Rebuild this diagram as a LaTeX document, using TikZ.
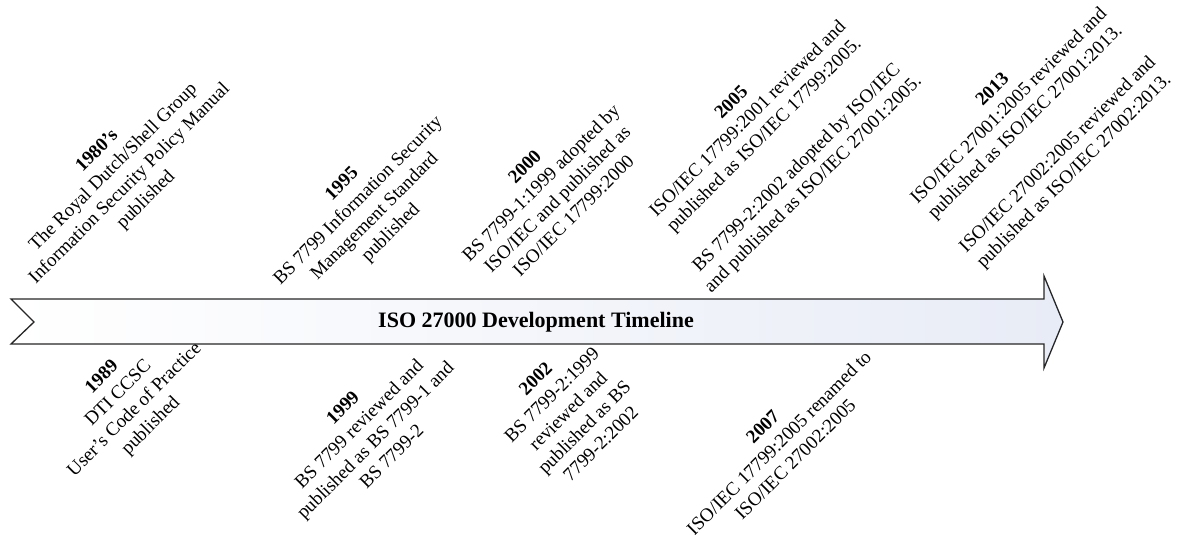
\documentclass[tikz,border=0pt]{standalone}
\usepackage{fontspec}
\setmainfont{Liberation Serif}
\definecolor{bannerend}{RGB}{232,236,246}
\begin{document}
\begin{tikzpicture}[x=1pt,y=-1pt,
  event/.style={rotate=45, align=center, inner sep=0pt,
    font=\fontsize{19}{23}\selectfont},
  banner/.style={draw=black!85, line width=1.3pt, line join=miter,
    left color=white, right color=bannerend}]
\useasboundingbox (0,0) rectangle (1177,535);

% timeline arrow with notched tail
\path[banner] (11,299) -- (1044,299) -- (1044,276) -- (1063,322)
  -- (1044,368) -- (1044,344) -- (11,344) -- (34,322) -- cycle;
\node[font=\fontsize{22}{26}\selectfont\bfseries, inner sep=0pt] (title) at (536,322)
  {ISO 27000 Development Timeline};

% milestones above the arrow
\node[event] (e1980) at (122,176) {\textbf{1980's}\\The Royal Dutch/Shell Group\\Information Security Policy Manual\\published};
\node[event] (e1995) at (367,209) {\textbf{1995}\\BS 7799 Information Security\\Management Standard\\published};
\node[event] (e2000) at (549,191) {\textbf{2000}\\BS 7799-1:1999 adopted by\\ISO/IEC and published as\\ISO/IEC 17799:2000};
\node[event] (e2005) at (773,144) {\textbf{2005}\\ISO/IEC 17799:2001 reviewed and\\published as ISO/IEC 17799:2005.\\[23pt]BS 7799-2:2002 adopted by ISO/IEC\\and published as ISO/IEC 27001:2005.};
\node[event] (e2013) at (1034,131) {\textbf{2013}\\ISO/IEC 27001:2005 reviewed and\\published as ISO/IEC 27001:2013.\\[23pt]ISO/IEC 27002:2005 reviewed and\\published as ISO/IEC 27002:2013.};

% milestones below the arrow
\node[event] (e1989) at (127,402) {\textbf{1989}\\DTI CCSC\\User’s Code of Practice\\published};
\node[event] (e1999) at (367,432) {\textbf{1999}\\BS 7799 reviewed and\\published as BS 7799-1 and\\BS 7799-2};
\node[event] (e2002) at (568,411) {\textbf{2002}\\BS 7799-2:1999\\reviewed and\\published as BS\\7799-2:2002};
\node[event] (e2007) at (779,443) {\textbf{2007}\\ISO/IEC 17799:2005 renamed to\\ISO/IEC 27002:2005};
\end{tikzpicture}
\end{document}
